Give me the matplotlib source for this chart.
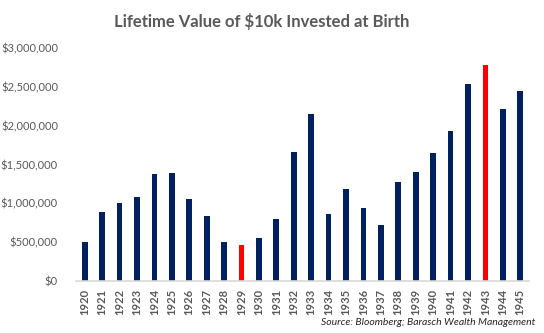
import matplotlib.pyplot as plt
import matplotlib.ticker as mticker

years = [str(y) for y in range(1920, 1946)]
values = [504000, 888000, 1004000, 1082000, 1379000, 1392000, 1056000, 836000,
          504000, 461000, 552000, 797000, 1664000, 2155000, 862000, 1185000,
          940000, 720000, 1276000, 1405000, 1651000, 1935000, 2543000, 2789000,
          2220000, 2453000]
highlight = ['1929', '1943']

navy = '#002060'
red = '#FF0000'
grey = '#595959'

plt.rcParams['font.family'] = ['Lato', 'DejaVu Sans']

fig = plt.figure(figsize=(5.44, 3.33), dpi=100)
ax = fig.add_axes([0.1397, 0.157, 0.8327, 0.698])

colors = [red if y in highlight else navy for y in years]
x = range(len(years))
ax.bar(x, values, width=0.33, color=colors)

ax.set_xlim(-0.5, len(years) - 0.5)
ax.set_ylim(0, 3000000)
ax.set_yticks(range(0, 3000001, 500000))
ax.yaxis.set_major_formatter(mticker.FuncFormatter(lambda v, p: '${:,.0f}'.format(v)))
ax.set_xticks(list(x))
ax.set_xticklabels(years, rotation=90, fontsize=8, color=grey, fontweight='bold')
ax.tick_params(axis='y', length=0, labelsize=8, labelcolor=grey, pad=13)
ax.tick_params(axis='x', length=0, pad=6)

for s in ['top', 'right', 'left']:
    ax.spines[s].set_visible(False)
ax.spines['bottom'].set_color('#D9D9D9')
ax.spines['bottom'].set_linewidth(1.2)

fig.text(0.481, 0.934, 'Lifetime Value of $10k Invested at Birth', ha='center', va='center',
         fontsize=12, fontweight='bold', color=grey)
fig.text(0.983, 0.033, 'Source: Bloomberg; Barasch Wealth Management', ha='right', va='center',
         fontsize=7.5, style='italic', color='#262626')

fig.savefig('out.png', dpi=100)
